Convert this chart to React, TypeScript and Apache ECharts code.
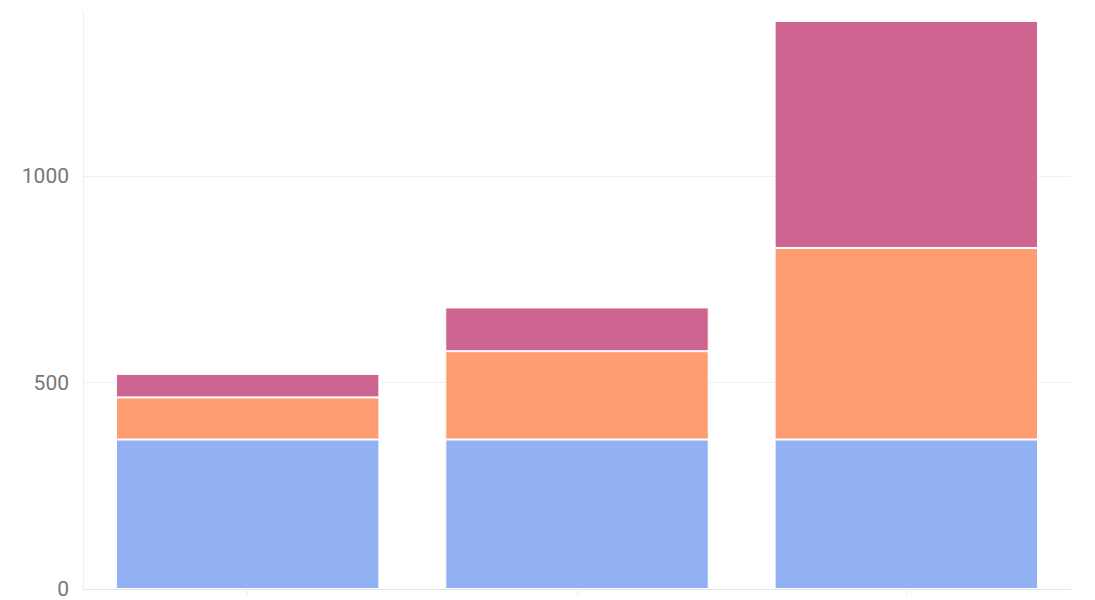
import React, { useEffect, useRef } from "react";
import * as echarts from "echarts";

const categories = ["A", "B", "C"];
const seriesBlue = [362, 362, 362];
const seriesOrange = [102, 214, 464];
const seriesPink = [57, 106, 550];
const yTicks = [0, 500, 1000];

export default function App() {
  const ref = useRef<HTMLDivElement>(null);
  useEffect(() => {
    if (!ref.current) return;
    const chart = echarts.init(ref.current, undefined, { renderer: "svg" });
    const itemBorder = { borderColor: "#ffffff", borderWidth: 1 };
    chart.setOption({
      animation: false,
      backgroundColor: "#ffffff",
      grid: { left: 83, right: 24, top: 11, bottom: 11, containLabel: false },
      xAxis: {
        type: "category",
        data: categories,
        axisLine: { show: true, lineStyle: { color: "#e6e6e6", width: 1 } },
        axisTick: { show: true, alignWithLabel: true, length: 6, lineStyle: { color: "#eeeeee" } },
        axisLabel: { show: false },
        splitLine: { show: false },
      },
      yAxis: {
        type: "value",
        min: yTicks[0],
        max: 1400,
        interval: yTicks[1] - yTicks[0],
        axisLine: { show: true, lineStyle: { color: "#eeeeee", width: 1 } },
        axisTick: { show: false },
        axisLabel: {
          showMaxLabel: false,
          color: "#777777",
          fontSize: 21,
          fontFamily: "Roboto",
          margin: 14,
          formatter: (v: number) => String(v),
        },
        splitLine: { show: true, showMaxLine: false, lineStyle: { color: "#efefef", width: 1 } },
      },
      series: [
        {
          type: "bar",
          stack: "total",
          data: seriesBlue,
          barWidth: "80%",
          itemStyle: { color: "#91b1f3", ...itemBorder },
        },
        {
          type: "bar",
          stack: "total",
          data: seriesOrange,
          barWidth: "80%",
          itemStyle: { color: "#fd9d71", ...itemBorder },
        },
        {
          type: "bar",
          stack: "total",
          data: seriesPink,
          barWidth: "80%",
          itemStyle: { color: "#ce6590", ...itemBorder },
        },
      ],
    });
    return () => chart.dispose();
  }, []);
  return (
    <div
      ref={ref}
      style={{ position: "fixed", left: 0, top: 0, width: 1095, height: 600 }}
    />
  );
}
